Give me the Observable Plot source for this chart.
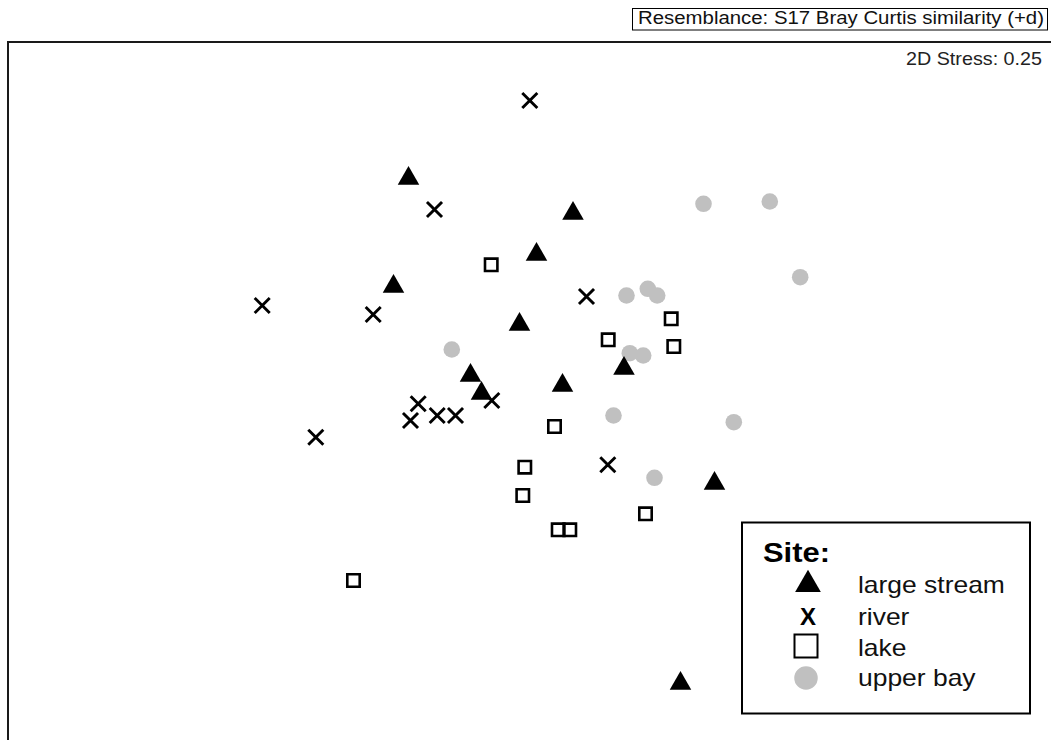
<!DOCTYPE html>
<html><head><meta charset="utf-8">
<script src="https://cdn.jsdelivr.net/npm/d3@7"></script>
<script src="https://cdn.jsdelivr.net/npm/@observablehq/plot@0.6"></script>
<style>
html,body{margin:0;padding:0;background:#fff;}
#wrap{position:relative;width:1051px;height:740px;overflow:hidden;font-family:"Liberation Sans",Arial,sans-serif;}
#chart{position:absolute;left:0;top:40px;width:1051px;height:700px;overflow:hidden;}
#overlay{position:absolute;left:0;top:0;pointer-events:none;font-family:"Liberation Sans",Arial,sans-serif;}
</style></head><body>
<div id="wrap"><div id="chart"></div><svg id="overlay" width="1051" height="740"></svg></div>
<script>
// Site categories (legend order)
const sites = ["large stream", "river", "lake", "upper bay"];

// NMDS coordinates [MDS1, MDS2]
const largeStream = [
  [-1.22, 2.22], [0.425, 1.87], [0.06, 1.46], [-1.37, 1.14], [-0.11, 0.76],
  [-0.60, 0.25], [-0.49, 0.07], [0.32, 0.15], [0.935, 0.32], [1.84, -0.83], [1.50, -2.83]
];
const river = [
  [-0.007, 3.00], [-0.96, 1.91], [-2.683, 0.95], [-1.573, 0.86], [0.56, 1.04],
  [-1.123, -0.033], [-1.20, -0.20], [-0.933, -0.15], [-0.75, -0.15], [-0.387, 0.00],
  [-2.147, -0.367], [0.773, -0.643]
];
const lake = [
  [-0.393, 1.357], [0.777, 0.607], [1.407, 0.817], [1.433, 0.54], [0.24, -0.26],
  [-0.057, -0.667], [-0.077, -0.95], [0.277, -1.293], [0.393, -1.293], [1.15, -1.133], [-1.77, -1.80]
];
const upperBay = [
  [1.73, 1.967], [2.393, 1.99], [2.697, 1.233], [0.96, 1.05], [1.173, 1.117],
  [1.267, 1.05], [-0.787, 0.51], [0.993, 0.473], [1.127, 0.45], [0.83, -0.15],
  [2.033, -0.217], [1.24, -0.773]
];

const titleText = "Resemblance: S17 Bray Curtis similarity (+d)";
const stressText = "2D Stress: 0.25";
const legendTitle = "Site:";
const upperBayColor = "#c0c0c0";

const px = d => d[0], py = d => d[1];

const plot = Plot.plot({
  width: 1051, height: 700,
  marginLeft: 7.5, marginTop: 1.5, marginRight: -20, marginBottom: -20,
  x: {domain: [-5.30, 5.21], range: [0, 1051], axis: null},
  y: {domain: [-3.40, 3.60], range: [700, 0], axis: null},
  style: {background: "white", overflow: "hidden"},
  marks: [
    Plot.frame({stroke: "#1a1a1a", strokeWidth: 2}),
    Plot.dot(upperBay, {x: px, y: py, symbol: "circle", r: 8.3, fill: upperBayColor, stroke: "none"}),
    Plot.dot(largeStream, {x: px, y: py, symbol: "triangle", r: 8, fill: "black", stroke: "none"}),
    Plot.dot(lake, {x: px, y: py, symbol: "square", r: 7, fill: "none", stroke: "black", strokeWidth: 2.6}),
    Plot.dot(river, {x: px, y: py, symbol: "times", r: 6.9, fill: "none", stroke: "black", strokeWidth: 2.9})
  ]
});
document.getElementById("chart").appendChild(plot);

// Overlay: resemblance box, stress label, legend
const ov = d3.select("#overlay");
ov.append("rect").attr("x", 632.5).attr("y", 8.5).attr("width", 415).attr("height", 21.5)
  .attr("fill", "white").attr("stroke", "black").attr("stroke-width", 1);
ov.append("text").attr("x", 638).attr("y", 24).attr("font-size", 17.5)
  .attr("textLength", 406).attr("lengthAdjust", "spacingAndGlyphs").attr("fill", "#111").text(titleText);

ov.append("text").attr("x", 1042).attr("y", 65).attr("font-size", 19)
  .attr("text-anchor", "end").attr("fill", "#222")
  .attr("textLength", 136).attr("lengthAdjust", "spacingAndGlyphs").text(stressText);

const lg = ov.append("g");
lg.append("rect").attr("x", 742).attr("y", 522.5).attr("width", 288).attr("height", 191)
  .attr("fill", "white").attr("stroke", "black").attr("stroke-width", 2);
lg.append("text").attr("x", 763).attr("y", 562).attr("font-size", 28.5).attr("font-weight", "bold")
  .attr("textLength", 67).attr("lengthAdjust", "spacingAndGlyphs").text(legendTitle);

const symY = [584.5, 617, 646, 678];
const baseY = [593, 624.5, 655.5, 686];
// symbols
lg.append("path").attr("d", d3.symbol(d3.symbolTriangle, 286)()).attr("transform", `translate(808,${symY[0]})`).attr("fill", "black");
lg.append("text").attr("x", 800).attr("y", 624.5).attr("font-size", 23).attr("font-weight", "bold")
  .attr("textLength", 16).attr("lengthAdjust", "spacingAndGlyphs").text("X");
lg.append("path").attr("d", d3.symbol(d3.symbolSquare, 529)()).attr("transform", `translate(806,${symY[2]})`)
  .attr("fill", "none").attr("stroke", "black").attr("stroke-width", 2);
lg.append("path").attr("d", d3.symbol(d3.symbolCircle, 434)()).attr("transform", `translate(806,${symY[3]})`)
  .attr("fill", upperBayColor);
sites.forEach((s, i) => {
  lg.append("text").attr("transform", `translate(858,${baseY[i]}) scale(1.15,1)`)
    .attr("font-size", 23).attr("fill", "#111").text(s);
});
</script>
</body></html>
